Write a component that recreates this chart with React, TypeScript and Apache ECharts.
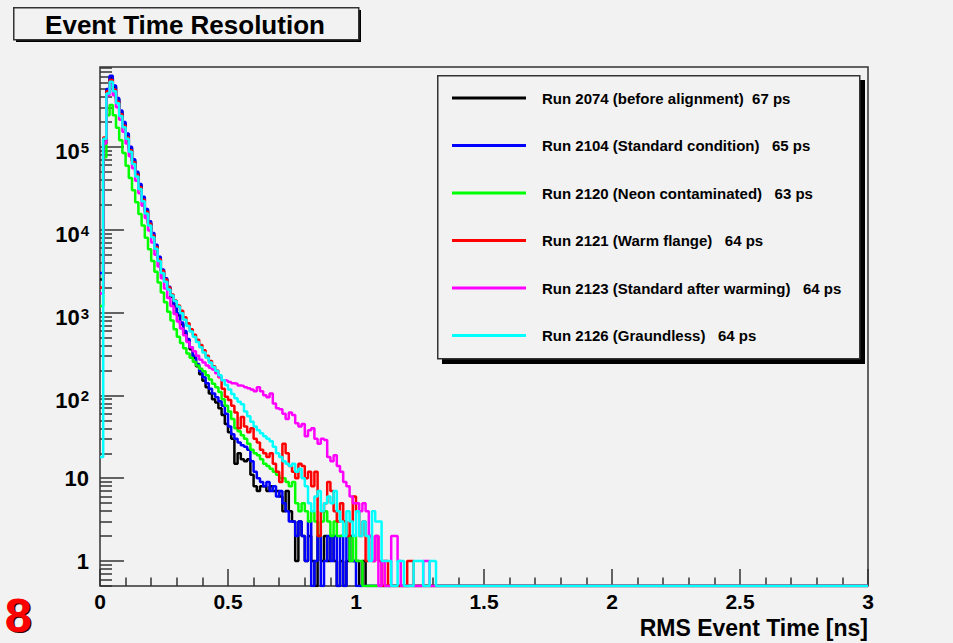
import React, { useEffect, useRef } from 'react';
import * as echarts from 'echarts';

const FONT = "'Liberation Sans', Arial, Helvetica, sans-serif";

const BIN_WIDTH = 0.0125; // ns
const N_BINS = 240; // 0 .. 3 ns
const Y_MIN = 0.5;
const Y_MAX = 9.2e5;

const runNames = [
  'Run 2074 (before alignment)  67 ps',
  'Run 2104 (Standard condition)   65 ps',
  'Run 2120 (Neon contaminated)   63 ps',
  'Run 2121 (Warm flange)   64 ps',
  'Run 2123 (Standard after warming)   64 ps',
  'Run 2126 (Graundless)   64 ps',
];
const runColors = ['#000000', '#0000ff', '#00ff00', '#ff0000', '#ff00ff', '#00ffff'];

// bin contents, bins of 0.0125 ns starting at 0 (remaining bins up to 3 ns are empty)
const run2074 = [
  2500, 110000, 480000, 680000, 530000, 375000, 265000, 193000, 140000, 96000,
  68000, 48000, 34000, 24000, 17000, 12000, 8700, 6300, 4500, 3200,
  2500, 1950, 1550, 1200, 930, 720, 570, 455, 360, 285,
  225, 180, 150, 125, 105, 90, 82, 70, 58, 45,
  36, 30, 15, 20, 17, 16, 17, 11, 8, 7,
  8, 8, 7, 8, 7, 7, 6, 4, 7, 4,
  3, 1, 3, 2, 1, 2, 1, 0, 2, 1,
  2, 1, 2, 1, 0, 1, 0, 1, 2, 1,
  1, 0, 1, 0,
];
const run2104 = [
  3000, 120000, 500000, 720000, 550000, 390000, 275000, 200000, 145000, 100000,
  71000, 50000, 35500, 25000, 17800, 12600, 9100, 6600, 4700, 3300,
  2600, 2050, 1620, 1260, 980, 760, 600, 480, 380, 300,
  240, 195, 165, 140, 120, 105, 95, 85, 75, 60,
  42, 34, 30, 27, 25, 24, 22, 16, 12, 10,
  9, 8, 9, 7, 8, 6, 7, 5, 4, 3,
  3, 2, 3, 2, 1, 3, 0, 1, 2, 0,
  1, 2, 1, 2, 0, 2, 0, 2, 1, 1,
  0,
];
const run2120 = [
  1200, 75000, 240000, 320000, 240000, 170000, 120000, 84000, 59000, 42000,
  30000, 21500, 15500, 11200, 8000, 5800, 4200, 3100, 2300, 1750,
  1330, 1020, 800, 630, 510, 430, 370, 320, 285, 255,
  230, 210, 195, 175, 155, 138, 125, 110, 90, 75,
  64, 52, 40, 37, 33, 30, 26, 22, 20, 19,
  17, 15, 14, 13, 12, 11, 10, 10, 9, 8,
  9, 5, 4, 5, 4, 3, 4, 3, 2, 3,
  4, 3, 2, 3, 2, 2, 3, 2, 1, 2,
  1, 1, 0,
];
const run2121 = [
  2000, 130000, 470000, 640000, 490000, 350000, 248000, 180000, 130000, 91000,
  65000, 46000, 32500, 23000, 16500, 11800, 8500, 6200, 4400, 3200,
  2500, 2000, 1650, 1400, 1220, 1050, 880, 740, 630, 540,
  470, 405, 350, 300, 260, 225, 200, 165, 120, 96,
  88, 75, 62, 40, 55, 42, 36, 40, 30, 27,
  22, 20, 18, 20, 15, 12, 9, 26, 20, 14,
  12, 10, 15, 14, 10, 12, 8, 12, 2, 4,
  5, 9, 7, 4, 3, 5, 3, 2, 3, 6,
  4, 2, 3, 1, 2, 1, 2, 1, 0, 1,
  0, 0, 0, 0, 0, 0, 1, 1, 0,
];
const run2123 = [
  1700, 110000, 420000, 560000, 420000, 300000, 212000, 152000, 110000, 77000,
  55000, 39000, 27500, 19500, 13800, 9800, 7000, 5000, 3600, 2600,
  1950, 1500, 1200, 960, 780, 640, 530, 440, 380, 340,
  300, 270, 250, 230, 215, 205, 185, 168, 152, 150,
  145, 140, 138, 132, 130, 125, 122, 118, 112, 125,
  112, 100, 95, 105, 80, 70, 68, 60, 52, 62,
  58, 46, 42, 45, 32, 38, 40, 30, 26, 30,
  29, 18, 16, 19, 14, 12, 9, 8, 6, 5,
  5, 4, 5, 4, 2, 1, 2, 0, 1, 0,
  0, 2, 2, 1, 0, 0, 0, 0, 0, 0,
  0, 1, 1, 0,
];
const run2126 = [
  18, 125000, 440000, 610000, 470000, 335000, 236000, 172000, 125000, 87000,
  62000, 44000, 31000, 22000, 15700, 11200, 8100, 5900, 4200, 3000,
  2350, 1900, 1600, 1380, 1180, 980, 820, 690, 590, 510,
  440, 380, 330, 285, 250, 220, 198, 175, 152, 133,
  118, 104, 92, 84, 78, 64, 56, 48, 42, 38,
  35, 32, 30, 28, 24, 20, 18, 16, 15, 14,
  15, 12, 13, 10, 8, 5, 4, 6, 7, 4,
  5, 6, 5, 7, 4, 3, 2, 4, 3, 2,
  4, 2, 3, 2, 1, 4, 3, 3, 1, 1,
  1, 0, 0, 1, 1, 0, 0, 0, 1, 1,
  1, 0, 0, 1, 1,
];
const runCounts = [run2074, run2104, run2120, run2121, run2123, run2126];

const yLabelValues = [1, 10, 100, 1000, 10000, 100000];
const xTickInterval = 0.5;
const xAxisTitle = 'RMS Event Time [ns]';
const chartTitle = 'Event Time Resolution';
const cornerMark = '8';

function toSteps(counts: number[]): number[][] {
  const pts: number[][] = [];
  let last = Y_MIN;
  for (let i = 0; i < N_BINS; i++) {
    const c = counts[i] ?? 0;
    last = c > 0 ? c : Y_MIN; // empty bins are drawn on the frame, as ROOT does on a log scale
    pts.push([+(i * BIN_WIDTH).toFixed(4), last]);
  }
  pts.push([+(N_BINS * BIN_WIDTH).toFixed(4), last]);
  return pts;
}

function minorLogTicks(): number[] {
  const out: number[] = [];
  for (let d = 0.1; d < Y_MAX; d *= 10) {
    for (let k = 2; k <= 9; k++) {
      const v = +(k * d).toPrecision(3);
      if (v >= Y_MIN && v <= Y_MAX) out.push(v);
    }
  }
  return out;
}

export default function App() {
  const ref = useRef<HTMLDivElement>(null);

  useEffect(() => {
    if (!ref.current) return;
    const chart = echarts.init(ref.current, undefined, { renderer: 'svg' });

    const series = runCounts.map((counts, i) => ({
      name: runNames[i],
      type: 'line',
      step: 'end',
      data: toSteps(counts),
      showSymbol: false,
      symbol: 'none',
      clip: true,
      lineStyle: { color: runColors[i], width: 2.5 },
      itemStyle: { color: runColors[i] },
      z: 2 + i,
    }));

    const option: any = {
      animation: false,
      backgroundColor: '#f2f2f2',
      textStyle: { fontFamily: FONT },
      grid: {
        left: 100,
        right: 85,
        top: 67,
        bottom: 57,
        show: true,
        borderColor: '#333',
        borderWidth: 1.5,
        backgroundColor: 'transparent',
      },
      xAxis: {
        type: 'value',
        min: 0,
        max: 3,
        interval: xTickInterval,
        axisLine: { show: false },
        splitLine: { show: false },
        axisTick: { show: true, inside: true, length: 17, lineStyle: { color: '#333', width: 1.5 } },
        minorTick: { show: true, splitNumber: 5, length: 8.5, lineStyle: { color: '#333', width: 1.5 } },
        axisLabel: {
          margin: 5,
          color: '#000',
          fontSize: 21,
          fontWeight: 'bold',
          fontFamily: FONT,
          formatter: (v: number) => String(v),
        },
      },
      yAxis: [
        {
          type: 'log',
          logBase: 10,
          min: Y_MIN,
          max: Y_MAX,
          axisLine: { show: false },
          splitLine: { show: false },
          axisTick: {
            show: true,
            inside: true,
            length: 24,
            customValues: yLabelValues,
            lineStyle: { color: '#333', width: 1.5 },
          },
          axisLabel: {
            margin: 11,
            customValues: yLabelValues,
            formatter: (v: number) => {
              const e = Math.round(Math.log10(v));
              if (e >= 2) return `{b|10}{s|${e}}`;
              return `{p|${v}}`;
            },
            rich: {
              b: { fontSize: 22, fontWeight: 'bold', fontFamily: FONT, color: '#000', lineHeight: 22, padding: [10, 0, 0, 0] },
              s: { fontSize: 15, fontWeight: 'bold', fontFamily: FONT, color: '#000', lineHeight: 15, verticalAlign: 'top', padding: [4, 0, 0, 1] },
              p: { fontSize: 22, fontWeight: 'bold', fontFamily: FONT, color: '#000', lineHeight: 22 },
            },
          },
        },
        {
          type: 'log',
          logBase: 10,
          min: Y_MIN,
          max: Y_MAX,
          gridIndex: 0,
          position: 'left',
          axisLine: { show: false },
          splitLine: { show: false },
          axisLabel: { show: false },
          axisTick: {
            show: true,
            inside: true,
            length: 12,
            customValues: minorLogTicks(),
            lineStyle: { color: '#333', width: 1.5 },
          },
        },
      ],
      legend: {
        data: runNames,
        orient: 'vertical',
        left: 452,
        top: 90,
        padding: 0,
        itemWidth: 74,
        itemHeight: 3,
        itemGap: 31.5,
        icon: 'rect',
        selectedMode: false,
        textStyle: {
          fontSize: 15,
          fontWeight: 'bold',
          fontFamily: FONT,
          color: '#000',
          lineHeight: 16,
          padding: [0, 0, 0, 11],
        },
      },
      graphic: [
        // title box with shadow
        { type: 'rect', left: 16, top: 10, shape: { width: 345, height: 32 }, style: { fill: '#000' }, z: 0 },
        { type: 'rect', left: 13, top: 7, shape: { width: 345, height: 32 }, style: { fill: '#f2f2f2', stroke: '#333', lineWidth: 1.5 }, z: 1 },
        {
          type: 'text',
          x: 185,
          y: 25,
          style: { text: chartTitle, font: `bold 26px ${FONT}`, fill: '#000', align: 'center', verticalAlign: 'middle' },
          z: 2,
        },
        // legend frame with shadow
        { type: 'rect', left: 442, top: 80, shape: { width: 423, height: 284 }, style: { fill: '#000' }, z: 0 },
        { type: 'rect', left: 437, top: 75, shape: { width: 422, height: 283 }, style: { fill: '#f2f2f2', stroke: '#333', lineWidth: 1.5 }, z: 1 },
        // x axis title
        {
          type: 'text',
          x: 868,
          y: 628,
          style: { text: xAxisTitle, font: `bold 23px ${FONT}`, fill: '#000', align: 'right', verticalAlign: 'middle' },
        },
        // red slide number, with its dark drop shadow drawn underneath
        {
          type: 'text',
          x: 19.5,
          y: 616.5,
          style: { text: cornerMark, font: `bold 48px ${FONT}`, fill: '#3a0000', align: 'center', verticalAlign: 'middle' },
          z: 5,
        },
        {
          type: 'text',
          x: 18,
          y: 615,
          style: { text: cornerMark, font: `bold 48px ${FONT}`, fill: '#ff0000', align: 'center', verticalAlign: 'middle' },
          z: 6,
        },
      ],
      series,
    };

    chart.setOption(option);
    return () => chart.dispose();
  }, []);

  return (
    <div
      ref={ref}
      style={{ position: 'fixed', left: 0, top: 0, width: 953, height: 643, background: '#f2f2f2' }}
    />
  );
}
